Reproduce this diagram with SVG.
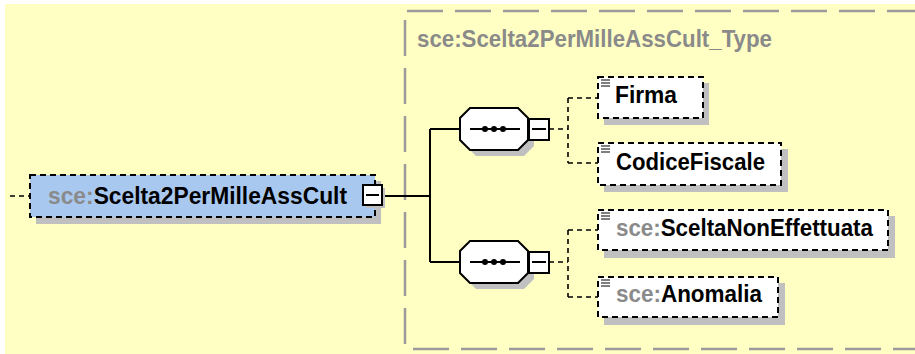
<svg xmlns="http://www.w3.org/2000/svg" width="915" height="354" viewBox="0 0 915 354">
<style>
.t{font-family:"Liberation Sans",Arial,sans-serif;font-weight:bold;font-size:23px;fill:#000}
.p{fill:#8a8a8a}
.sh{fill:#c0c0c0}
.leaf{fill:#fff;stroke:#000;stroke-width:2;stroke-dasharray:6 4}
.conn{fill:none;stroke:#000;stroke-width:2}
.dconn{fill:none;stroke:#000;stroke-width:1.6;stroke-dasharray:5 4}
.tb{stroke:#9a9a9a;stroke-width:2.5;stroke-dasharray:36 12;fill:none}
.mb{fill:#fff;stroke:#000;stroke-width:2}
.ic{stroke:#000;stroke-width:1.2}
</style>
<rect x="0" y="0" width="915" height="354" fill="#fff"/>
<rect x="5" y="4" width="910" height="350" fill="#ffffc4"/>
<g id="type-box">
<line class="tb" x1="407" y1="11" x2="915" y2="11"/>
<line class="tb" x1="405" y1="20" x2="405" y2="349"/>
<line class="tb" x1="413" y1="349" x2="915" y2="349"/>
<text class="t p" x="417" y="47" textLength="355" lengthAdjust="spacingAndGlyphs">sce:Scelta2PerMilleAssCult_Type</text>
</g>
<g id="connectors">
<line class="dconn" x1="10" y1="196" x2="30" y2="196"/>
<path class="conn" d="M383 196H430M430 129V262M430 129H460M430 262H460"/>
<path class="dconn" d="M549 129H568M568 98V163M568 98H598M568 163H598"/>
<path class="dconn" d="M549 262H568M568 230V297M568 230H598M568 297H598"/>
</g>
<g id="node-main">
<rect class="sh" x="36" y="181" width="345" height="43"/>
<rect x="30" y="175" width="345" height="42" fill="#a9c8f0" stroke="#000" stroke-width="2" stroke-dasharray="6 4"/>
<text class="t" x="48" y="204" textLength="299" lengthAdjust="spacingAndGlyphs"><tspan class="p">sce:</tspan>Scelta2PerMilleAssCult</text>
<rect class="sh" x="366" y="188" width="19" height="20"/>
<rect class="mb" x="363" y="185" width="19" height="20"/>
<line x1="366" y1="195" x2="379" y2="195" stroke="#000" stroke-width="2"/>
</g>
<g id="seq-1">
<path class="sh" d="M476 114H524L534 124V146L524 156H476L466 146V124Z"/>
<path d="M470 108H518L528 118V140L518 150H470L460 140V118Z" fill="#fff" stroke="#000" stroke-width="2"/>
<line x1="470" y1="129" x2="520" y2="129" stroke="#000" stroke-width="2"/>
<circle cx="485" cy="129" r="3"/><circle cx="494" cy="129" r="3"/><circle cx="503" cy="129" r="3"/>
<rect class="mb" x="529" y="119" width="20" height="21"/>
<line x1="532" y1="129" x2="546" y2="129" stroke="#000" stroke-width="2"/>
</g>
<g id="seq-2">
<path class="sh" d="M476 247H524L534 257V279L524 289H476L466 279V257Z"/>
<path d="M470 241H518L528 251V273L518 283H470L460 273V251Z" fill="#fff" stroke="#000" stroke-width="2"/>
<line x1="470" y1="262" x2="520" y2="262" stroke="#000" stroke-width="2"/>
<circle cx="485" cy="262" r="3"/><circle cx="494" cy="262" r="3"/><circle cx="503" cy="262" r="3"/>
<rect class="mb" x="529" y="252" width="20" height="21"/>
<line x1="532" y1="262" x2="546" y2="262" stroke="#000" stroke-width="2"/>
</g>
<g id="node-firma">
<rect class="sh" x="604" y="83" width="105" height="42"/>
<rect class="leaf" x="598" y="77" width="105" height="41"/>
<path class="ic" d="M601 80H610M601 83H610M601 86H610"/>
<text class="t" x="615" y="103" textLength="62" lengthAdjust="spacingAndGlyphs">Firma</text>
</g>
<g id="node-codicefiscale">
<rect class="sh" x="604" y="149" width="184" height="43"/>
<rect class="leaf" x="598" y="143" width="183" height="42"/>
<path class="ic" d="M601 146H610M601 149H610M601 152H610"/>
<text class="t" x="616" y="170" textLength="149" lengthAdjust="spacingAndGlyphs">CodiceFiscale</text>
</g>
<g id="node-sceltanoneffettuata">
<rect class="sh" x="604" y="216" width="291" height="42"/>
<rect class="leaf" x="598" y="210" width="290" height="40"/>
<path class="ic" d="M601 213H610M601 216H610M601 219H610"/>
<text class="t" x="616" y="236" textLength="257" lengthAdjust="spacingAndGlyphs"><tspan class="p">sce:</tspan>SceltaNonEffettuata</text>
</g>
<g id="node-anomalia">
<rect class="sh" x="604" y="283" width="181" height="42"/>
<rect class="leaf" x="598" y="277" width="180" height="40"/>
<path class="ic" d="M601 280H610M601 283H610M601 286H610"/>
<text class="t" x="616" y="302" textLength="146" lengthAdjust="spacingAndGlyphs"><tspan class="p">sce:</tspan>Anomalia</text>
</g>
</svg>
